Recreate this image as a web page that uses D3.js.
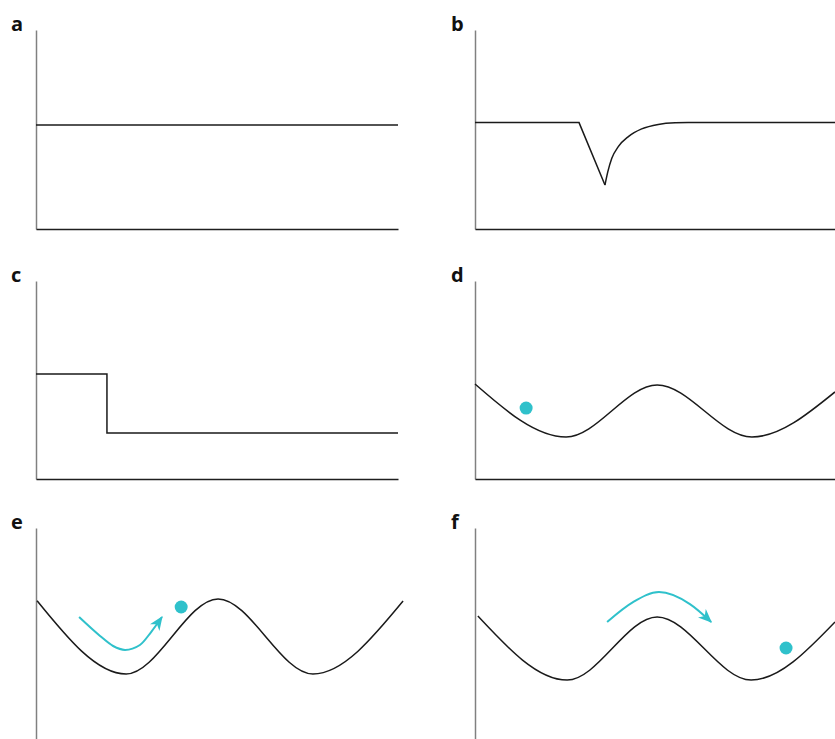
<!DOCTYPE html>
<html lang="en">
<head>
  <meta charset="utf-8">
  <title>Panels a-f</title>
  <script src="https://d3js.org/d3.v7.min.js" charset="utf-8"></script>
  <style type="text/css">
    body { margin: 0; background: #fff; }
    .label { font-family: "Open Sans", sans-serif; font-weight: 700; font-size: 20px; fill: #111; }
    .yaxis path { stroke: #808080; stroke-width: 1.5; }
    .xaxis path { stroke: #1e1e1e; stroke-width: 1.5; }
    .curve { fill: none; stroke: #1a1a1a; stroke-width: 1.5; }
    .move { fill: none; stroke: #2fc1cb; stroke-width: 2; }
  </style>
</head>
<body>
  <svg id="chart" width="835" height="739" xmlns="http://www.w3.org/2000/svg"></svg>
  <script type="text/javascript">
    // values in panel units: x 0..100 along the axis, y 0..100 up from the baseline
    var flatA = [[0, 52.8], [100, 52.8]];
    var dropB = [[0, 54], [28.9, 54], [36.1, 22.3]];
    var recoverB = [[36.1, 22.3], [36.9, 29.1], [38.0, 35.9], [39.8, 41.8], [42.6, 46.9], [46.3, 50.8], [50.9, 53.1], [55.6, 53.9], [59.2, 54], [100, 54]];
    var stepC = [[0, 53.3], [19.6, 53.3], [19.6, 23.4], [100, 23.4]];
    var wellsD = [[0, 48.2], [25.3, 21.3], [50.6, 47.7], [76.9, 21.3], [100, 44.2]];
    var wellsE = [[0.3, 63.1], [24.9, 25.9], [50.3, 64.0], [76.5, 25.9], [101.4, 62.9]];
    var wellsF = [[0.8, 55.3], [25.6, 22.8], [50.6, 54.8], [76.7, 22.8], [100, 52.3]];
    var ballD = [14.2, 36.0];
    var ballE = [40.1, 59.9];
    var ballF = [86.4, 39.1];
    var arrowE = [[11.9, 54.8], [17.7, 45.2], [21.3, 40.1], [24.6, 38.1], [28.7, 40.6], [31.8, 47.2], [34.8, 54.8]];
    var arrowF = [[36.7, 52.3], [43.9, 62.4], [51.1, 67.5], [59.7, 61.4], [65.6, 52.3]];
    var labels = ['a', 'b', 'c', 'd', 'e', 'f'];

    var svg = d3.select('#chart');

    var defs = svg.append('defs');
    defs.append('marker')
      .attr('id', 'head')
      .attr('viewBox', '0 0 12 10')
      .attr('markerUnits', 'userSpaceOnUse')
      .attr('markerWidth', 14)
      .attr('markerHeight', 12)
      .attr('refX', 11)
      .attr('refY', 5)
      .attr('orient', 'auto')
      .append('path')
      .attr('d', 'M0,0 L12,5 L0,10 L3.5,5 Z')
      .style('fill', '#2fc1cb');

    var cols = [{ left: 36, right: 398, lab: 11 }, { left: 475, right: 835, lab: 451 }];
    var rows = [
      { top: 32, bottom: 229, axisTop: 30, axisBottom: 229, base: true },
      { top: 282, bottom: 479, axisTop: 281, axisBottom: 479, base: true },
      { top: 528, bottom: 725, axisTop: 528, axisBottom: 739, base: false }
    ];

    function panel(i) {
      var c = cols[i % 2], r = rows[Math.floor(i / 2)];
      var x = d3.scaleLinear().domain([0, 100]).range([c.left, c.right]);
      var y = d3.scaleLinear().domain([0, 100]).range([r.bottom, r.top]);
      var g = svg.append('g');

      var yAxisScale = y.copy().domain([y.invert(r.axisBottom), y.invert(r.axisTop)]).range([r.axisBottom, r.axisTop]);
      g.append('g')
        .attr('class', 'yaxis')
        .attr('transform', 'translate(' + c.left + ',0)')
        .call(d3.axisLeft(yAxisScale).ticks(0).tickSizeOuter(0));

      if (r.base) {
        g.append('g')
          .attr('class', 'xaxis')
          .attr('transform', 'translate(0,' + r.bottom + ')')
          .call(d3.axisBottom(x).ticks(0).tickSizeOuter(0));
      }

      g.append('text')
        .attr('class', 'label')
        .attr('x', c.lab)
        .attr('y', r.axisTop + 1)
        .text(labels[i]);

      return { g: g, x: x, y: y };
    }

    function drawCurve(p, data, curve) {
      var line = d3.line()
        .x(function(d) { return p.x(d[0]); })
        .y(function(d) { return p.y(d[1]); })
        .curve(curve);
      p.g.append('path').attr('class', 'curve').attr('d', line(data));
    }

    function drawBall(p, d) {
      p.g.append('circle')
        .attr('cx', p.x(d[0]))
        .attr('cy', p.y(d[1]))
        .attr('r', 6.5)
        .style('fill', '#2fc1cb');
    }

    function drawArrow(p, data) {
      var line = d3.line()
        .x(function(d) { return p.x(d[0]); })
        .y(function(d) { return p.y(d[1]); })
        .curve(d3.curveMonotoneX);
      p.g.append('path')
        .attr('class', 'move')
        .attr('d', line(data))
        .attr('marker-end', 'url(#head)');
    }

    var pa = panel(0);
    drawCurve(pa, flatA, d3.curveLinear);

    var pb = panel(1);
    drawCurve(pb, dropB, d3.curveLinear);
    drawCurve(pb, recoverB, d3.curveMonotoneX);

    var pc = panel(2);
    drawCurve(pc, stepC, d3.curveLinear);

    var pd = panel(3);
    drawCurve(pd, wellsD, d3.curveMonotoneX);
    drawBall(pd, ballD);

    var pe = panel(4);
    drawCurve(pe, wellsE, d3.curveMonotoneX);
    drawArrow(pe, arrowE);
    drawBall(pe, ballE);

    var pf = panel(5);
    drawCurve(pf, wellsF, d3.curveMonotoneX);
    drawArrow(pf, arrowF);
    drawBall(pf, ballF);
  </script>
</body>
</html>
